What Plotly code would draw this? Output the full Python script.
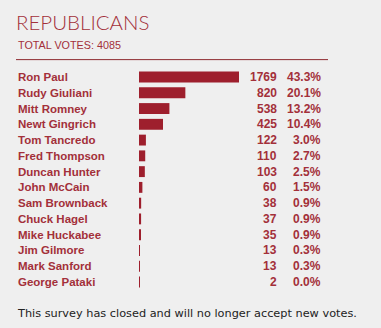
import plotly.graph_objects as go

candidates = ["Ron Paul", "Rudy Giuliani", "Mitt Romney", "Newt Gingrich", "Tom Tancredo",
              "Fred Thompson", "Duncan Hunter", "John McCain", "Sam Brownback", "Chuck Hagel",
              "Mike Huckabee", "Jim Gilmore", "Mark Sanford", "George Pataki"]
votes = [1769, 820, 538, 425, 122, 110, 103, 60, 38, 37, 35, 13, 13, 2]
percents = ["43.3%", "20.1%", "13.2%", "10.4%", "3.0%", "2.7%", "2.5%", "1.5%",
            "0.9%", "0.9%", "0.9%", "0.3%", "0.3%", "0.0%"]
title_text = "REPUBLICANS"
total_text = "TOTAL VOTES: 4085"
footer_text = "This survey has closed and will no longer accept new votes."

W, H = 381, 328
L, R, T, B = 139, 142, 67.7, 36.7
PW, PH = W - L - R, H - T - B

def px(x):
    return (x - L) / PW

def py(y):
    return 1 - (y - T) / PH

RED = "#9e1f2d"
TXT = "#a3303a"

fig = go.Figure()
fig.add_trace(go.Bar(x=votes, y=candidates, orientation="h",
                     marker=dict(color=RED, line=dict(width=0)),
                     hoverinfo="skip"))

ann = []
for name, v, p in zip(candidates, votes, percents):
    ann.append(dict(x=px(16), xref="paper", y=name, yref="y", text=name,
                    xanchor="left", yanchor="middle", showarrow=False,
                    font=dict(family="Liberation Sans", size=11.5, color=TXT, weight="bold")))
    ann.append(dict(x=px(278.5), xref="paper", y=name, yref="y", text=str(v),
                    xanchor="right", yanchor="middle", showarrow=False,
                    font=dict(family="Liberation Sans", size=12, color=TXT, weight="bold")))
    ann.append(dict(x=px(323), xref="paper", y=name, yref="y", text=p,
                    xanchor="right", yanchor="middle", showarrow=False,
                    font=dict(family="Liberation Sans", size=12, color=TXT, weight="bold")))

ann.append(dict(x=px(14), xref="paper", y=py(22), yref="paper", text=title_text,
                xanchor="left", yanchor="middle", showarrow=False,
                font=dict(family="Lato", size=20.5, color=TXT, weight=300)))
ann.append(dict(x=px(16), xref="paper", y=py(44.5), yref="paper", text=total_text,
                xanchor="left", yanchor="middle", showarrow=False,
                font=dict(family="Liberation Sans", size=10.8, color=TXT)))
ann.append(dict(x=px(15), xref="paper", y=py(313.5), yref="paper", text=footer_text,
                xanchor="left", yanchor="middle", showarrow=False,
                font=dict(family="DejaVu Sans", size=11.3, color="#222222")))

fig.add_shape(type="line", xref="paper", yref="paper", x0=px(16), x1=px(328),
              y0=py(59.3), y1=py(59.3), line=dict(color="#8e2a30", width=1))

fig.update_layout(
    width=W, height=H, margin=dict(l=L, r=R, t=T, b=B),
    paper_bgcolor="#efefef", plot_bgcolor="#efefef",
    showlegend=False, bargap=0.31, annotations=ann,
    xaxis=dict(range=[0, max(votes)], visible=False, fixedrange=True),
    yaxis=dict(autorange="reversed", visible=False, fixedrange=True),
)
fig.write_html("out.html", config={"displayModeBar": False})
